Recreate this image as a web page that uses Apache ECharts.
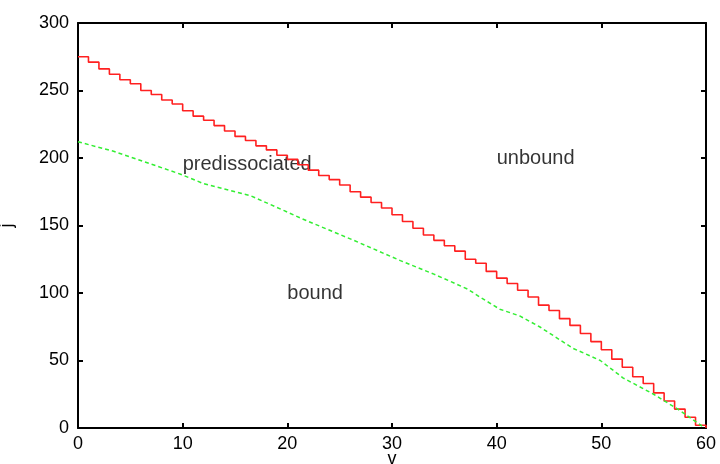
<!DOCTYPE html>
<html>
<head>
<meta charset="utf-8">
<script src="https://cdn.jsdelivr.net/npm/echarts@6/dist/echarts.min.js"></script>
<style>
  html, body { margin: 0; padding: 0; background: #fff; }
  #chart { width: 720px; height: 464px; }
</style>
</head>
<body>
<div id="chart"></div>
<script>
// upper boundary (red steps), one value per v
const redV = [0, 1, 2, 3, 4, 5, 6, 7, 8, 9, 10, 11, 12, 13, 14, 15, 16, 17, 18, 19,
  20, 21, 22, 23, 24, 25, 26, 27, 28, 29, 30, 31, 32, 33, 34, 35, 36, 37, 38, 39,
  40, 41, 42, 43, 44, 45, 46, 47, 48, 49, 50, 51, 52, 53, 54, 55, 56, 57, 58, 59, 60]
const redJ = [275, 271, 266, 262, 258, 255, 250, 247, 243, 240, 235, 231, 228, 224, 220, 216, 213, 209, 206, 202,
  199, 195, 191, 187, 184, 180, 175, 171, 167, 163, 158, 153, 148, 143, 139, 135, 131, 125, 122, 116,
  111, 107, 102, 97, 91, 87, 81, 76, 70, 64, 58, 51, 45, 38, 33, 26, 20, 14, 8, 2, 0]

// lower boundary (green dashed)
const greenV = [0, 3.4, 9.8, 12, 16.5, 19.7, 21.4, 26.2, 30.8, 34, 37.2, 38.4, 40.3, 42.2, 44.1, 47.3, 49.9, 52.1, 55, 57.5, 59.7]
const greenJ = [212, 205, 188, 181, 172, 161, 155, 139.5, 124, 114, 103, 97, 88, 83, 75, 59, 50, 37, 25, 13, 1]

// region labels
const labelText = ['predissociated', 'unbound', 'bound']
const labelV = [10, 40, 20]
const labelJ = [195, 200, 100]

const xTicks = { min: 0, max: 60, interval: 10 }
const yTicks = { min: 0, max: 300, interval: 50 }

const font = 'Liberation Sans, Arial, sans-serif'

const zip = (xs, ys) => xs.map((x, i) => [x, ys[i]])

const frameAxis = (extra) => ({
  type: 'value',
  axisLine: { show: true, onZero: false, lineStyle: { color: '#000', width: 2 } },
  axisTick: { show: true, inside: true, length: 5, lineStyle: { color: '#000', width: 2 } },
  splitLine: { show: false },
  ...extra,
})

const chart = echarts.init(document.getElementById('chart'))

chart.setOption({
  animation: false,
  grid: { left: 78, right: 14, top: 23, bottom: 36, outerBoundsMode: 'none' },
  xAxis: [
    frameAxis({
      ...xTicks,
      position: 'bottom',
      name: 'v',
      nameLocation: 'middle',
      nameGap: 22,
      nameMoveOverlap: false,
      nameTextStyle: { color: '#000', fontSize: 18, fontFamily: font },
      axisLabel: { color: '#000', fontSize: 18, fontFamily: font, margin: 7 },
    }),
    frameAxis({ ...xTicks, position: 'top', axisLabel: { show: false } }),
  ],
  yAxis: [
    frameAxis({
      ...yTicks,
      position: 'left',
      name: 'j',
      nameLocation: 'middle',
      nameGap: 62,
      nameMoveOverlap: false,
      nameTextStyle: { color: '#000', fontSize: 18, fontFamily: font },
      axisLabel: { color: '#000', fontSize: 18, fontFamily: font, margin: 9 },
    }),
    frameAxis({ ...yTicks, position: 'right', axisLabel: { show: false } }),
  ],
  series: [
    {
      type: 'line',
      step: 'end',
      data: zip(redV, redJ),
      showSymbol: false,
      lineStyle: { color: '#ff2020', width: 1.6 },
    },
    {
      type: 'line',
      data: zip(greenV, greenJ),
      showSymbol: false,
      lineStyle: { color: '#33ee33', width: 1.5, type: [4, 3] },
    },
    {
      type: 'scatter',
      symbolSize: 0,
      data: labelText.map((t, i) => ({ name: t, value: [labelV[i], labelJ[i]] })),
      label: {
        show: true,
        position: 'right',
        distance: 0,
        formatter: (p) => p.name,
        color: '#000',
        fontSize: 20,
        fontFamily: font,
      },
    },
  ],
})
</script>
</body>
</html>
